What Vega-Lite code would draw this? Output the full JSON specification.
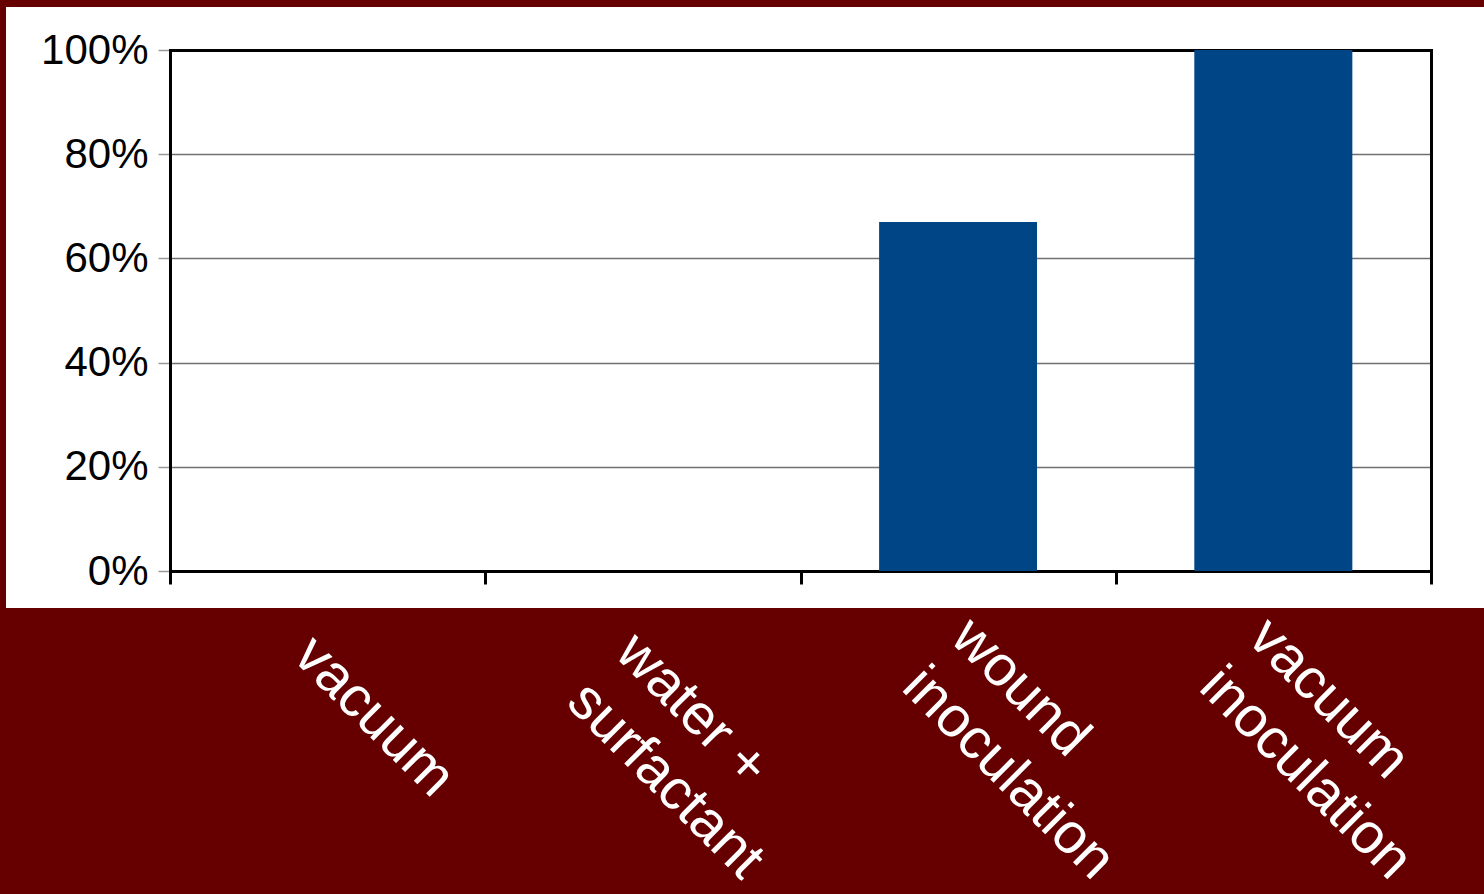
{
  "$schema": "https://vega.github.io/schema/vega-lite/v6.json",
  "width": 1478,
  "height": 601,
  "autosize": {"type": "none"},
  "padding": {"left": 6, "top": 7, "right": 0, "bottom": 286},
  "background": "#660000",
  "config": {"view": {"fill": "white", "stroke": null}, "font": "Liberation Sans"},
  "data": {"values": [
    {"treatment": "vacuum", "pct": 0},
    {"treatment": "water + surfactant", "pct": 0},
    {"treatment": "wound inoculation", "pct": 0.67},
    {"treatment": "vacuum inoculation", "pct": 1.0}
  ]},
  "layer": [
    {
      "mark": {"type": "bar", "width": {"band": 0.5}, "color": "#004586"},
      "encoding": {
        "x": {
          "field": "treatment", "type": "nominal", "sort": null,
          "scale": {"range": [164, 1425], "paddingInner": 0, "paddingOuter": 0},
          "axis": {
            "orient": "bottom", "offset": -37, "title": null,
            "domainColor": "black", "domainWidth": 3, "domainCap": "square",
            "tickBand": "extent", "tickColor": "black", "tickWidth": 3, "tickSize": 13,
            "labelAngle": 45, "labelColor": "white", "labelFontSize": 57,
            "labelAlign": "left", "labelBaseline": "top",
            "labelLineHeight": 69, "labelLimit": 0,
            "labelPadding": {"condition": [
              {"test": "datum.value == 'wound inoculation'", "value": 24},
              {"test": "datum.value == 'vacuum inoculation'", "value": 24},
              {"test": "datum.value == 'water + surfactant'", "value": 39}
            ], "value": 42},
            "labelOffset": {"condition": [
              {"test": "datum.value == 'wound inoculation'", "value": 22},
              {"test": "datum.value == 'vacuum inoculation'", "value": 4},
              {"test": "datum.value == 'water + surfactant'", "value": 2}
            ], "value": -5},
            "labelExpr": "datum.label == 'water + surfactant' ? ['water +', 'surfactant'] : split(datum.label, ' ')",
            "grid": false
          }
        },
        "y": {
          "field": "pct", "type": "quantitative",
          "scale": {"domain": [0, 1], "range": [564, 43], "nice": false},
          "axis": {
            "orient": "left", "offset": -164, "title": null, "format": ".0%",
            "values": [0, 0.2, 0.4, 0.6, 0.8, 1],
            "domainColor": "black", "domainWidth": 3, "domainCap": "square",
            "tickColor": "#999999", "tickSize": 12, "tickWidth": 1.5,
            "labelFontSize": 42, "labelColor": "black", "labelPadding": 10, "labelFlush": false, "labelDy": 3,
            "grid": true, "gridColor": "#707070", "gridWidth": 1.5
          }
        }
      }
    },
    {
      "mark": {"type": "bar", "width": {"band": 0.5}, "color": "#004586"},
      "encoding": {
        "x": {
          "field": "treatment", "type": "nominal", "sort": null,
          "axis": {"orient": "top", "offset": -43, "title": null, "labels": false, "ticks": false, "grid": false,
                   "domainColor": "black", "domainWidth": 3, "domainCap": "square"}
        },
        "y": {
          "field": "pct", "type": "quantitative",
          "axis": {"orient": "right", "offset": -53, "title": null, "labels": false, "ticks": false, "grid": false,
                   "domainColor": "black", "domainWidth": 3, "domainCap": "square"}
        }
      }
    }
  ]
}
